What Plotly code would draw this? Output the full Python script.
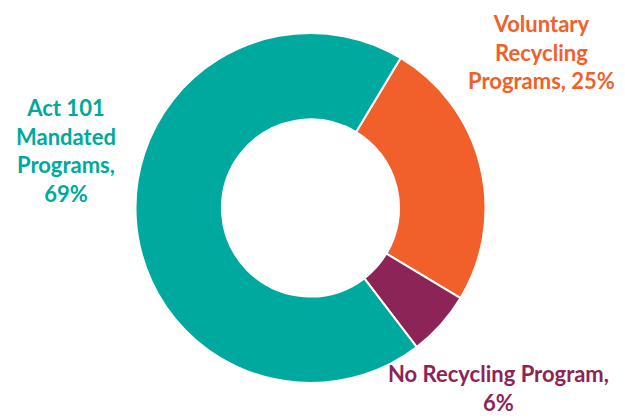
import plotly.graph_objects as go

labels = ["Voluntary Recycling Programs", "No Recycling Program", "Act 101 Mandated Programs"]
values = [25, 6, 69]
colors = ["#F15F2A", "#8C2457", "#00A99D"]
label_texts = ["Voluntary<br>Recycling<br>Programs, 25%", "No Recycling Program,<br>6%", "Act 101<br>Mandated<br>Programs,<br>69%"]

W, H = 625, 418
OFF = 8  # page body offset
fig = go.Figure(go.Pie(
    labels=labels, values=values, hole=0.506, sort=False, direction="clockwise",
    rotation=31, marker=dict(colors=colors, line=dict(color="white", width=2)),
    textinfo="none", hoverinfo="label+percent", showlegend=False,
    domain=dict(x=[(135-OFF)/W, (486-OFF)/W], y=[(H-383+OFF)/H, (H-33+OFF)/H]),
))

pos = [(541, 52), (498, 388), (66, 151)]
for t, c, (px, py) in zip(label_texts, colors, pos):
    fig.add_annotation(x=(px-OFF)/W, y=1-(py-OFF)/H, xref="paper", yref="paper", text=f"<b>{t}</b>",
                       showarrow=False, align="center", xanchor="center", yanchor="middle",
                       font=dict(family="Lato", size=22, color=c))

fig.update_layout(width=W, height=H, margin=dict(l=0, r=0, t=0, b=0),
                  paper_bgcolor="white", plot_bgcolor="white")
fig.write_html("out.html")
